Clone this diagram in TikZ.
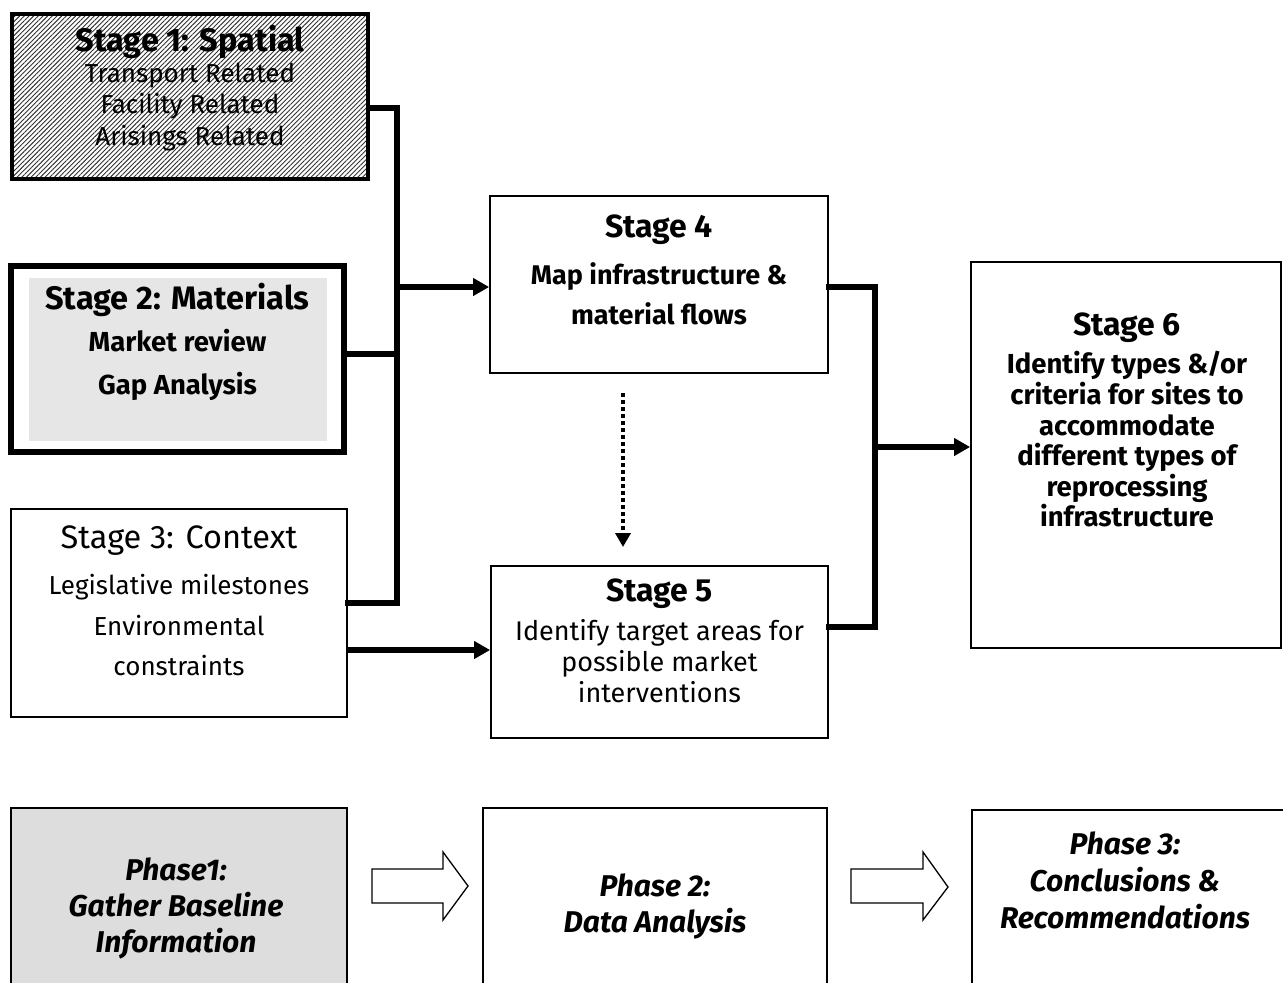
\documentclass[tikz,border=0pt]{standalone}
\usepackage{fontspec}
\setmainfont{Fira Sans}
\usetikzlibrary{arrows.meta,patterns.meta}
\definecolor{greyA}{HTML}{E6E6E6}
\definecolor{greyB}{HTML}{DDDDDD}
\begin{document}
\begin{tikzpicture}[x=1pt,y=-1pt,
  thinbox/.style={draw, line width=1.8pt, inner sep=0pt, fill=white},
  txt/.style={align=center, inner sep=0pt},
  conn/.style={line width=5.5pt, line join=miter, line cap=rect},
  tri/.style={-{Triangle[length=16pt,width=17pt]}},
  dotarrow/.style={line width=3.5pt, dash pattern=on 4pt off 3pt, -{Triangle[length=14pt,width=15pt]}},
  blockarrow/.style={draw, line width=1.3pt, fill=white, line join=miter}]
\useasboundingbox (0,0) rectangle (1283,983);
\fill[white] (0,0) rectangle (1283,983);

% Stage 1
\node[draw, line width=4pt, inner sep=0pt, minimum width=356pt, minimum height=165pt,
  pattern={Lines[angle=45,distance=3.3pt,line width=0.9pt]}, pattern color=black!80] (s1) at (190,96.5) {};
\node[txt, font=\fontsize{32.5}{36}\selectfont\bfseries] (s1h) at (190,42) {Stage 1: Spatial};
\node[txt, font=\fontsize{26}{31.5}\selectfont] (s1b) at (190,107) {Transport Related\\Facility Related\\Arisings Related};

% Stage 2
\node[draw, line width=6pt, inner sep=0pt, minimum width=333pt, minimum height=186pt, fill=white] (s2) at (177.5,359) {};
\node[fill=greyA, inner sep=0pt, minimum width=298pt, minimum height=163pt] (s2in) at (178,359.5) {};
\node[txt, font=\fontsize{32.5}{36}\selectfont\bfseries] (s2h) at (177.5,300) {Stage 2: Materials};
\node[txt, font=\fontsize{27.5}{43}\selectfont\bfseries] (s2b) at (177.5,364.5) {Market review\\Gap Analysis};

% Stage 3
\node[thinbox, minimum width=336pt, minimum height=208pt] (s3) at (179,613) {};
\node[txt, font=\fontsize{32.5}{36}\selectfont] (s3h) at (179,541) {Stage 3: Context};
\node[txt, font=\fontsize{26}{40.5}\selectfont] (s3b) at (179,625.5) {Legislative milestones\\Environmental\\constraints};

% Stage 4
\node[thinbox, minimum width=338pt, minimum height=177pt] (s4) at (659,284.5) {};
\node[txt, font=\fontsize{32}{36}\selectfont\bfseries] (s4h) at (659,229.5) {Stage 4};
\node[txt, font=\fontsize{27}{39.5}\selectfont\bfseries] (s4b) at (659,294) {Map infrastructure \&\\material flows};

% Stage 5
\node[thinbox, minimum width=337pt, minimum height=172pt] (s5) at (659.5,652) {};
\node[txt, font=\fontsize{32}{36}\selectfont\bfseries] (s5h) at (659.5,594) {Stage 5};
\node[txt, font=\fontsize{27}{31}\selectfont] (s5b) at (659.5,661) {Identify target areas for\\possible market\\interventions};

% Stage 6
\node[thinbox, minimum width=310pt, minimum height=386pt] (s6) at (1126,455) {};
\node[txt, font=\fontsize{32}{36}\selectfont\bfseries] (s6h) at (1127,327.5) {Stage 6};
\node[txt, font=\fontsize{27.5}{30.6}\selectfont\bfseries] (s6b) at (1127,439.5) {Identify types \&/or\\criteria for sites to\\accommodate\\different types of\\reprocessing\\infrastructure};

% Connectors
\coordinate (b1) at (397,108);
\coordinate (b2) at (397,354);
\coordinate (b3) at (397,603);
\coordinate (b4) at (397,287);
\coordinate (c35) at (347,650);
\coordinate (b5) at (875,287);
\coordinate (b6) at (875,627);
\coordinate (b7) at (875,447);
\coordinate (d1) at (623,393);
\coordinate (d2) at (623,547);
\draw[conn] (s1.east|-b1) -- (b1) -- (b3) -- (s3.east|-b3);
\draw[conn] (s2.east|-b2) -- (b2);
\draw[conn, line cap=butt, tri] (b4) -- (s4.west|-b4);
\draw[conn, line cap=butt, tri] (s3.east|-c35) -- (s5.west|-c35);
\draw[conn] (s4.east|-b5) -- (b5) -- (b6) -- (s5.east|-b6);
\draw[conn, line cap=butt, tri] (b7) -- (s6.west|-b7);
\draw[dotarrow] (d1) -- (d2);

% Phases
\node[thinbox, fill=greyB, minimum width=336pt, minimum height=192pt] (p1) at (179,904) {};
\node[thinbox, minimum width=344pt, minimum height=192pt] (p2) at (655,904) {};
\node[thinbox, minimum width=328pt, minimum height=190pt] (p3) at (1136,905) {};
\node[txt, font=\fontsize{30}{36}\selectfont\bfseries\itshape] (p1t) at (176,908) {Phase1:\\Gather Baseline\\Information};
\node[txt, font=\fontsize{30}{36}\selectfont\bfseries\itshape] (p2t) at (655,906) {Phase 2:\\Data Analysis};
\node[txt, font=\fontsize{30}{37}\selectfont\bfseries\itshape] (p3t) at (1125,880) {Phase 3:\\Conclusions \&\\Recommendations};

% Block arrows
\draw[blockarrow] (372,869) -- (443,869) -- (443,852) -- (468,886) -- (443,920) -- (443,903) -- (372,903) -- cycle;
\draw[blockarrow] (851,869) -- (923,869) -- (923,852) -- (948,887) -- (923,920) -- (923,903) -- (851,903) -- cycle;
\end{tikzpicture}
\end{document}
